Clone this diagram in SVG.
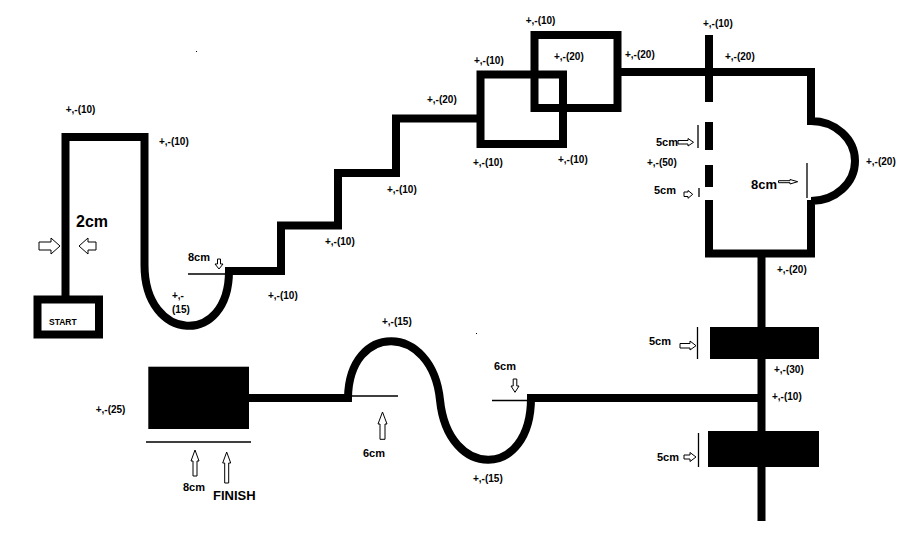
<svg xmlns="http://www.w3.org/2000/svg" width="920" height="554" viewBox="0 0 920 554">
<style>
.t{font-family:"Liberation Sans",Arial,sans-serif;font-weight:bold;font-size:10px;fill:#000}
.cm{font-size:11px}
.big{font-size:16px}
.mid{font-size:13px}
.sm{font-size:8.5px}
.thick{fill:none;stroke:#000;stroke-width:8}
.thin{fill:none;stroke:#000;stroke-width:1.3}
.arr{fill:#fff;stroke:#000;stroke-width:1}
.blk{fill:#000}
</style>
<rect width="920" height="554" fill="#fff"/>
<g id="track">
<path class="thick" d="M65.5,297 V137 H144.5 V265 C144.5,343 229,347 229,271 H281 V225.5 H338 V173 H396 V118.5 H480"/>
<rect id="box1" class="thick" x="480.5" y="74.5" width="82.5" height="69.5" stroke-width="7.5"/>
<rect id="box2" class="thick" x="534.5" y="35" width="83" height="73" stroke-width="7.5"/>
<path class="thick" d="M618,72 H811 V125 M811,200 V253.5 H705 M811,121 A44,40 0 0 1 811,201 M761.5,253 V521"/>
<path class="thick" d="M709,35 V102 M709,122 V150 M709,165 V187 M709,200 V253" stroke-width="7.5"/>
<rect class="blk" x="710" y="327" width="109" height="32"/>
<rect class="blk" x="708" y="431" width="111" height="36"/>
<path class="thick" d="M758,398 H531 C531,480 448,480 440,400 C432,322 349,322 348,398 H249"/>
<rect class="blk" x="148.3" y="366.7" width="100.7" height="62.3"/>
<rect id="start" class="thick" x="37.5" y="299.5" width="61.5" height="35" stroke-width="7"/>
</g>
<g id="dims">
<path class="thin" d="M188,274 H229 M146,442 H251 M352,396 H398 M492,400.5 H531 M698,125 V148 M699,188 V197 M807,163 V198 M697.5,327 V359 M698.5,433 V467"/>
<polygon class="arr" points="39,242 51,242 51,238 60,246 51,254 51,250 39,250"/>
<polygon class="arr" points="96,242 88,242 88,238 79,246 88,254 88,250 96,250"/>
<polygon class="arr" points="217.5,259 220.5,259 220.5,264 223,264 219,269 215,264 217.5,264"/>
<polygon class="arr" points="678,140.5 688,140.5 688,138.5 693.5,142.3 688,146 688,144 678,144"/>
<polygon class="arr" points="684,192 688,192 688,190.5 692.7,194.3 688,198.3 688,196.5 684,196.5"/>
<polygon class="arr" points="778.5,180.7 790,180.7 790,179.5 797.7,181.7 790,184 790,182.7 778.5,182.7"/>
<polygon class="arr" points="680,343.5 690,343.5 690,341 696,345.7 690,350 690,348 680,348"/>
<polygon class="arr" points="684,455 690,455 690,452.5 696,457 690,461.5 690,459 684,459"/>
<polygon class="arr" points="193,476 197,476 197,461 199,461 195,450 191,461 193,461"/>
<polygon class="arr" points="224.7,483 228.7,483 228.7,463 230.7,463 226.7,452 222.7,463 224.7,463"/>
<polygon class="arr" points="380,439.3 385,439.3 385,424 387,424 382.5,412 378,424 380,424"/>
<polygon class="arr" points="513.2,379 516.8,379 516.8,386 519,386 515,392.3 511,386 513.2,386"/>
<rect class="blk" x="196" y="51" width="1" height="1"/>
<rect class="blk" x="476" y="333" width="1" height="1"/>
</g>
<g id="labels">
<text class="t" x="65.7" y="113">+,-(10)</text>
<text class="t" x="159" y="145">+,-(10)</text>
<text class="t big" x="76" y="227">2cm</text>
<text class="t cm" x="188" y="261">8cm</text>
<text class="t" x="172" y="299">+,-</text>
<text class="t" x="172" y="313">(15)</text>
<text class="t sm" x="49" y="325">START</text>
<text class="t" x="268" y="299">+,-(10)</text>
<text class="t" x="325" y="245">+,-(10)</text>
<text class="t" x="387" y="193">+,-(10)</text>
<text class="t" x="427" y="103">+,-(20)</text>
<text class="t" x="474" y="64">+,-(10)</text>
<text class="t" x="525.7" y="24">+,-(10)</text>
<text class="t" x="554" y="60">+,-(20)</text>
<text class="t" x="625" y="58">+,-(20)</text>
<text class="t" x="473" y="166">+,-(10)</text>
<text class="t" x="558" y="163">+,-(10)</text>
<text class="t" x="703" y="27">+,-(10)</text>
<text class="t" x="725" y="60">+,-(20)</text>
<text class="t cm" x="656" y="146">5cm</text>
<text class="t" x="647" y="166">+,-(50)</text>
<text class="t cm" x="654" y="194">5cm</text>
<text class="t mid" x="751" y="189">8cm</text>
<text class="t" x="866" y="165">+,-(20)</text>
<text class="t" x="777" y="273">+,-(20)</text>
<text class="t cm" x="649" y="345">5cm</text>
<text class="t" x="774" y="373">+,-(30)</text>
<text class="t" x="772" y="400">+,-(10)</text>
<text class="t cm" x="657" y="461">5cm</text>
<text class="t" x="95.7" y="413">+,-(25)</text>
<text class="t cm" x="183" y="491">8cm</text>
<text class="t mid" x="213" y="500">FINISH</text>
<text class="t cm" x="363" y="457">6cm</text>
<text class="t cm" x="494" y="370">6cm</text>
<text class="t" x="382" y="325">+,-(15)</text>
<text class="t" x="473" y="482">+,-(15)</text>
</g>
</svg>
